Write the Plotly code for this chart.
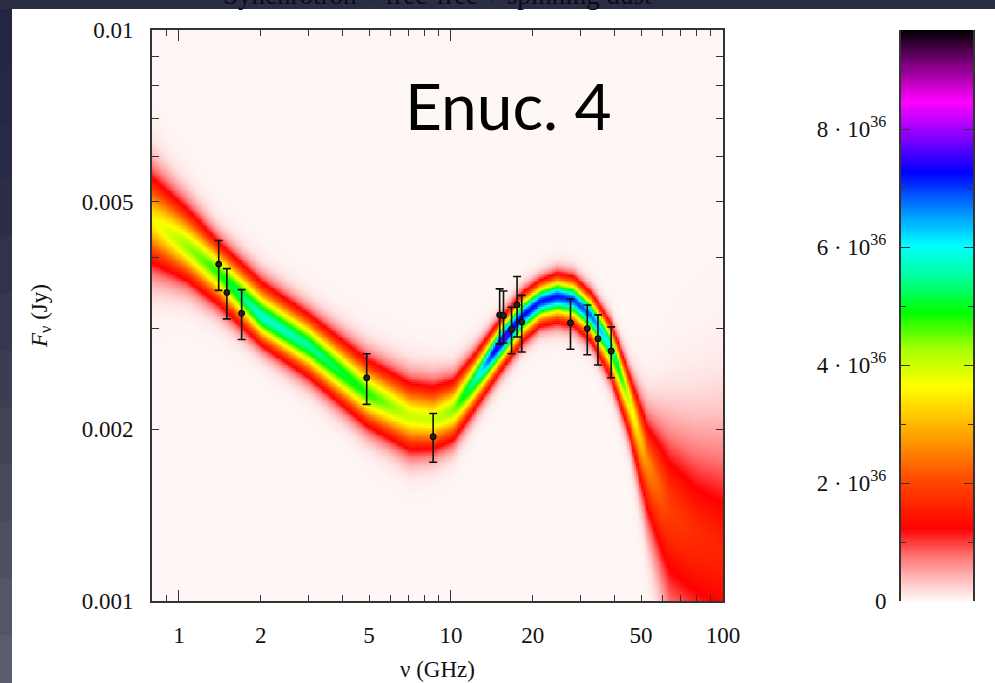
import numpy as np
import plotly.graph_objects as go

# ---------------- data ----------------
# Model-density ridge (densest curve), upper/lower band edges and peak density
freq_nodes = [0.78, 1.07, 1.40, 2.01, 3.03, 4.9, 7.08, 8.6, 10.2, 12.5, 15.1, 18.2,
              21.3, 24.6, 28.3, 33.0, 38.8, 45.3, 52.9, 64.0, 80.0, 102.6]
ridge_jy = [0.004678, 0.004174, 0.003749, 0.003148, 0.002789, 0.002311, 0.002103,
            0.002075, 0.002160, 0.002471, 0.002827, 0.003148, 0.003344, 0.003412,
            0.003367, 0.003148, 0.002789, 0.002249, 0.001742, 0.001450, 0.001300, 0.001200]
upper_jy = [0.005780, 0.005003, 0.004347, 0.003698, 0.003233, 0.002715, 0.002471,
            0.002438, 0.002488, 0.002789, 0.003148, 0.003504, 0.003698, 0.003800,
            0.003749, 0.003504, 0.003106, 0.002539, 0.002103, 0.001900, 0.001780, 0.001720]
lower_jy = [0.003780, 0.003552, 0.003233, 0.002752, 0.002406, 0.001980, 0.001790,
            0.001800, 0.001870, 0.002160, 0.002471, 0.002789, 0.002983, 0.003023,
            0.002983, 0.002789, 0.002406, 0.001914, 0.001368, 0.001000, 0.000900, 0.000830]
peak_density = [3.5e36, 4.3e36, 4.8e36, 5.8e36, 5.5e36, 4.8e36, 4.0e36, 4.0e36, 4.4e36,
                5.8e36, 7.8e36, 7.3e36, 7.2e36, 7.2e36, 7.0e36, 6.8e36, 5.8e36, 4.0e36,
                2.6e36, 1.9e36, 1.7e36, 1.6e36]

# Observed flux densities
obs_freq = [1.4, 1.5, 1.7, 4.9, 8.6, 15.1, 15.6, 16.7, 17.5, 18.2, 27.5, 31.7, 34.7, 38.8]
obs_flux = [0.00389, 0.00347, 0.00319, 0.00246, 0.00194, 0.00317, 0.00316, 0.00299,
            0.00330, 0.00308, 0.00307, 0.00300, 0.00288, 0.00274]
obs_err = [0.00039, 0.00035, 0.00032, 0.00025, 0.00019, 0.00035, 0.00033, 0.00028,
           0.00040, 0.00035, 0.00031, 0.00030, 0.00029, 0.00028]

# Axis / colorbar tick values and labels
x_tickvals = [1, 2, 5, 10, 20, 50, 100]
x_minor = [0.8, 0.9, 3, 4, 6, 7, 8, 9, 30, 40, 60, 70, 80, 90]
x_decades = [1, 10, 100]
y_tickvals = [0.001, 0.002, 0.005, 0.01]
y_ticktext = ["0.001", "0.002", "0.005", "0.01"]
y_minor = [0.003, 0.004, 0.006, 0.007, 0.008, 0.009]
cb_tickvals = [0, 2e36, 4e36, 6e36, 8e36]
cb_ticktext = ["0", "2 · 10<sup>36</sup>", "4 · 10<sup>36</sup>",
               "6 · 10<sup>36</sup>", "8 · 10<sup>36</sup>"]
cb_minor = [1e36, 3e36, 5e36, 7e36, 9e36]
z_max = 9.68e36

colorscale = [
    [0.0, "#fef7f5"], [0.015, "#ffe4e4"], [0.047, "#ffacac"], [0.08, "#ff7070"],
    [0.127, "#ff0000"], [0.214, "#ff4c00"], [0.288, "#ffa000"], [0.376, "#ffff00"],
    [0.44, "#a8ff00"], [0.505, "#00ff00"], [0.565, "#00ff99"], [0.622, "#00ffff"],
    [0.69, "#0080ff"], [0.75, "#0000ff"], [0.81, "#8000ff"], [0.874, "#ff00ff"],
    [0.94, "#800080"], [1.0, "#000000"],
]

# ---------------- build density image table ----------------
lf_nodes = np.log10(freq_nodes)
lx = np.linspace(np.log10(0.79), np.log10(101.0), 330)
ly = np.linspace(-3.004, -1.996, 330)
c = np.interp(lx, lf_nodes, np.log10(ridge_jy))
u = np.interp(lx, lf_nodes, np.log10(upper_jy))
lo = np.interp(lx, lf_nodes, np.log10(lower_jy))
P = np.interp(lx, lf_nodes, peak_density)
E = np.minimum(0.8e36, 0.6 * P)
q = 1.7
k = (2 * np.log(P / E)) ** (1 / q)
su = (u - c) / k
sl = (c - lo) / k
dy = ly[:, None] - c[None, :]
s = np.where(dy >= 0, su[None, :], sl[None, :])
z = P[None, :] * np.exp(-0.5 * np.abs(dy / s) ** q)

cb_levels = np.linspace(0, z_max, 300)

# ---------------- figure ----------------
W, H = 995, 683
L, R, T, B = 152, 973, 30, 601
pw, ph = R - L, B - T


def px(xp):
    return (xp - L) / pw


def py(yp):
    return (B - yp) / ph


serif = "Liberation Serif"
tick_font = dict(family=serif, size=23, color="#111111")
axis_col = "#333333"

fig = go.Figure()
fig.add_trace(go.Heatmap(x=10 ** lx, y=10 ** ly, z=z, colorscale=colorscale,
                         zmin=0, zmax=z_max, showscale=False, hoverinfo="skip"))
fig.add_trace(go.Scatter(
    x=obs_freq, y=obs_flux, mode="markers",
    marker=dict(symbol="circle", size=6, color="#222222",
                line=dict(color="#000000", width=1)),
    error_y=dict(type="data", array=obs_err, color="#111111", thickness=1.6, width=4),
    showlegend=False, hoverinfo="skip"))
# decade ticks overlay axis carrier
fig.add_trace(go.Scatter(x=[], y=[], xaxis="x4", yaxis="y", showlegend=False))
# colour bar gradient
fig.add_trace(go.Heatmap(x=[0], y=cb_levels, z=[[v] for v in cb_levels],
                         colorscale=colorscale, zmin=0, zmax=z_max, showscale=False,
                         xaxis="x3", yaxis="y2", hoverinfo="skip"))

main_dom = [0, px(723)]
fig.update_layout(
    template="none",
    width=W, height=H, autosize=False,
    margin=dict(l=L, r=W - R, t=T, b=H - B, pad=0, autoexpand=False),
    paper_bgcolor="#2a2d45",
    plot_bgcolor="#fef7f5",
    showlegend=False,
    xaxis=dict(
        type="log", domain=main_dom, range=[np.log10(0.796), 2.0], anchor="y",
        tickvals=x_tickvals, ticktext=[str(v) for v in x_tickvals],
        ticks="inside", ticklen=6, tickwidth=1.3, tickcolor=axis_col,
        minor=dict(tickvals=x_minor, ticks="inside", ticklen=6, tickwidth=1.3,
                   tickcolor=axis_col, showgrid=False),
        mirror="allticks", showline=True, linecolor=axis_col, linewidth=2,
        showgrid=False, zeroline=False, tickfont=tick_font, ticklabelstandoff=12,
        automargin=False,
        title=dict(text="ν (GHz)", font=dict(family=serif, size=23, color="#111111"),
                   standoff=14),
    ),
    xaxis4=dict(
        type="log", domain=main_dom, range=[np.log10(0.796), 2.0], overlaying="x",
        anchor="y", tickvals=x_decades, ticks="inside", ticklen=11, tickwidth=1.3,
        tickcolor=axis_col, showticklabels=False, mirror="allticks", showline=False,
        showgrid=False, zeroline=False, automargin=False,
    ),
    yaxis=dict(
        type="log", domain=[0, 1], range=[-3, -2], anchor="x",
        tickvals=y_tickvals, ticktext=y_ticktext,
        ticks="inside", ticklen=7, tickwidth=1.3, tickcolor=axis_col,
        minor=dict(tickvals=y_minor, ticks="inside", ticklen=7, tickwidth=1.3,
                   tickcolor=axis_col, showgrid=False),
        mirror="allticks", showline=True, linecolor=axis_col, linewidth=2,
        showgrid=False, zeroline=False, tickfont=tick_font, ticklabelstandoff=12,
        automargin=False,
        title=dict(text="<i>F</i><sub>ν</sub> (Jy)",
                   font=dict(family=serif, size=23, color="#111111"), standoff=28),
    ),
    xaxis3=dict(domain=[px(901), 1.0], range=[-0.5, 0.5], anchor="y2", visible=False,
                automargin=False),
    yaxis2=dict(
        domain=[0, 1], range=[0, z_max], anchor="x3", side="left",
        tickvals=cb_tickvals, ticktext=cb_ticktext,
        ticks="inside", ticklen=9, tickwidth=1.3, tickcolor=axis_col,
        minor=dict(tickvals=cb_minor, ticks="inside", ticklen=5, tickwidth=1.3,
                   tickcolor=axis_col, showgrid=False),
        mirror="allticks", showline=True, linecolor=axis_col, linewidth=2,
        showgrid=False, zeroline=False, tickfont=tick_font, ticklabelstandoff=8,
        automargin=False,
    ),
)

# light page panel and dark slide border
shapes = [dict(type="rect", xref="paper", yref="paper", layer="below",
               x0=px(12), x1=px(1000), y0=py(690), y1=py(9),
               fillcolor="#ffffff", line=dict(width=0))]
left_cols = ["#232640", "#252843", "#282b45", "#2c2e48", "#31334b", "#36384f",
             "#3c3d53", "#424357", "#48495c", "#4e4f61", "#545566", "#5a5b6b"]
seg = 683 / len(left_cols)
for i, col in enumerate(left_cols):
    shapes.append(dict(type="rect", xref="paper", yref="paper", layer="below",
                       x0=px(-5), x1=px(12), y0=py(9 + (i + 1) * seg + 1),
                       y1=py(9 + i * seg), fillcolor=col, line=dict(width=0)))
fig.update_layout(shapes=shapes)

fig.add_annotation(text="Synchrotron + free-free + spinning dust",
                   xref="paper", yref="paper", x=px(437), y=py(-5),
                   xanchor="center", yanchor="middle", showarrow=False,
                   font=dict(family=serif, size=27, color="#0b0b10"))
fig.add_annotation(text="Enuc. 4", xref="paper", yref="paper",
                   x=px(508), y=py(106), xanchor="center", yanchor="middle",
                   showarrow=False, font=dict(family="Lato", size=64, color="#000000"))

fig.write_html("out.html",
               config={"displayModeBar": False},
               post_script="document.body.style.margin='0';"
                           "document.body.style.padding='0';"
                           "document.body.style.overflow='hidden';")
